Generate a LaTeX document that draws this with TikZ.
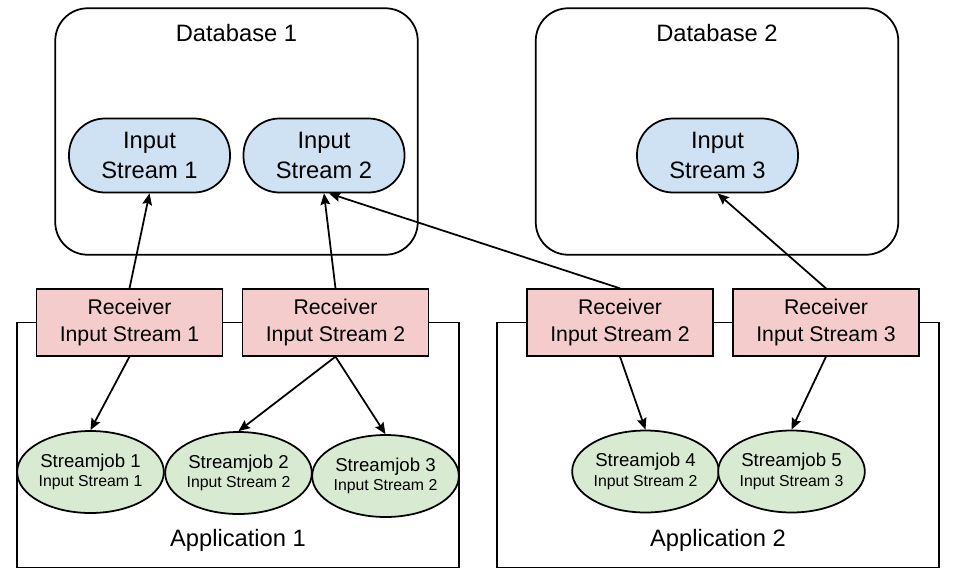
\documentclass[tikz,border=0pt]{standalone}
\usepackage{fontspec}
\setmainfont{Liberation Sans}
\usetikzlibrary{positioning, shapes.geometric, arrows.meta}
\definecolor{streamblue}{HTML}{CFE2F3}
\definecolor{recvpink}{HTML}{F4CCCC}
\definecolor{jobgreen}{HTML}{D9EAD3}

\begin{document}
\begin{tikzpicture}[line width=1pt,
	dbbox/.style={draw, rounded corners=0.65cm, minimum width=7.25cm, minimum height=4.93cm},
	appbox/.style={draw, minimum width=8.85cm, minimum height=4.9cm},
	title/.style={inner sep=0pt, font=\fontsize{13.5}{16}\selectfont},
	stream/.style={draw, fill=streamblue, rounded corners=0.72cm, minimum width=3.22cm, minimum height=1.48cm, align=center, font=\fontsize{13.5}{17}\selectfont},
	receiver/.style={draw, fill=recvpink, minimum width=3.72cm, minimum height=1.33cm, align=center, font=\fontsize{12.1}{15.2}\selectfont},
	job/.style={draw, fill=jobgreen, ellipse, inner sep=0pt, minimum width=2.92cm, minimum height=1.64cm, align=center, font=\fontsize{10.6}{11}\selectfont}]
	\useasboundingbox (0,0) rectangle (19.16,-11.54);

	\node[dbbox](db1) at (4.73,-2.63) {};
	\node[dbbox](db2) at (14.34,-2.63) {};
	\node[title, below=0.33cm of db1.north](db1title) {Database 1};
	\node[title, below=0.33cm of db2.north](db2title) {Database 2};

	\node[stream](is1) at (2.99,-3.11) {Input\\Stream 1};
	\node[stream](is2) at (6.48,-3.11) {Input\\Stream 2};
	\node[stream](is3) at (14.35,-3.11) {Input\\Stream 3};

	\node[appbox](app1) at (4.76,-8.9) {};
	\node[appbox](app2) at (14.36,-8.9) {};
	\node[title, above=0.32cm of app1.south](app1title) {Application 1};
	\node[title, above=0.32cm of app2.south](app2title) {Application 2};

	\node[receiver](r1) at (2.59,-6.45) {Receiver\\Input Stream 1};
	\node[receiver](r2) at (6.71,-6.45) {Receiver\\Input Stream 2};
	\node[receiver](r3) at (12.40,-6.45) {Receiver\\Input Stream 2};
	\node[receiver](r4) at (16.52,-6.45) {Receiver\\Input Stream 3};

	\node[job](sj1) at (1.81,-9.44) {Streamjob 1\\{\fontsize{9}{11}\selectfont Input Stream 1}};
	\node[job](sj2) at (4.77,-9.46) {Streamjob 2\\{\fontsize{9}{11}\selectfont Input Stream 2}};
	\node[job](sj3) at (7.71,-9.52) {Streamjob 3\\{\fontsize{9}{11}\selectfont Input Stream 2}};
	\node[job, minimum width=2.8cm](sj4) at (12.91,-9.43) {Streamjob 4\\{\fontsize{9}{11}\selectfont Input Stream 2}};
	\node[job, minimum width=2.8cm](sj5) at (15.83,-9.43) {Streamjob 5\\{\fontsize{9}{11}\selectfont Input Stream 3}};

	\draw[->,>={Stealth[length=6.5pt,width=5.5pt,inset=1pt]}](r1.north) -- (is1.south);
	\draw[->,>={Stealth[length=6.5pt,width=5.5pt,inset=1pt]}](r2.north) -- (is2.south);
	\draw[->,>={Stealth[length=6.5pt,width=5.5pt,inset=1pt]}](r3.north) -- ([xshift=0.1cm]is2.south);
	\draw[->,>={Stealth[length=6.5pt,width=5.5pt,inset=1pt]}](r4.north) -- (is3.south);

	\draw[->,>={Stealth[length=6.5pt,width=5.5pt,inset=1pt]}](r1.south) -- (sj1.north);
	\draw[->,>={Stealth[length=6.5pt,width=5.5pt,inset=1pt]}](r2.south) -- (sj2.north);
	\draw[->,>={Stealth[length=6.5pt,width=5.5pt,inset=1pt]}](r2.south) -- (sj3.north);
	\draw[->,>={Stealth[length=6.5pt,width=5.5pt,inset=1pt]}](r3.south) -- (sj4.north);
	\draw[->,>={Stealth[length=6.5pt,width=5.5pt,inset=1pt]}](r4.south) -- (sj5.north);
\end{tikzpicture}
\end{document}
